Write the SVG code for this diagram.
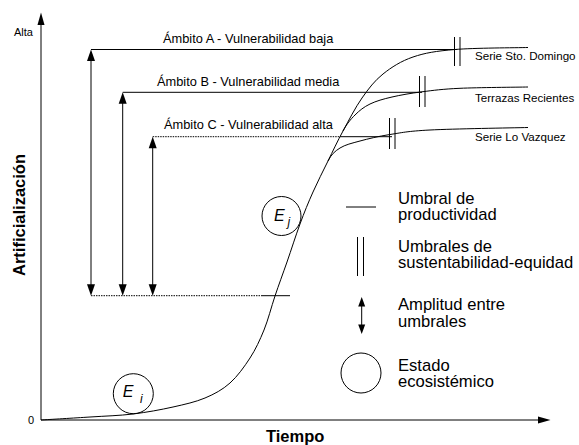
<svg xmlns="http://www.w3.org/2000/svg" width="579" height="445" viewBox="0 0 579 445">
<style>
.ln{fill:none;stroke:#000;stroke-width:1}
.dot{fill:none;stroke:#000;stroke-width:1;stroke-dasharray:1.5 1}
.ah{fill:#000;stroke:none}
.t{font-family:"Liberation Sans",Arial,sans-serif;fill:#000}
.lvl{font-size:12.8px}
.ser{font-size:11.6px}
.leg{font-size:16.6px}
.ax{font-size:11px}
.bold{font-weight:bold;font-size:16.5px}
.e{font-style:italic;font-size:16px}
.sub{font-style:italic;font-size:12px}
</style>
<rect width="579" height="445" fill="#fff"/>
<g id="axes">
<line class="ln" x1="41" y1="22" x2="41" y2="420"/>
<polygon class="ah" points="41,12.5 44.5,25 37.5,25"/>
<line class="ln" x1="41" y1="420" x2="540" y2="420"/>
<polygon class="ah" points="550.5,420 538,416.5 538,423.5"/>
<text class="t ax" x="14" y="36">Alta</text>
<text class="t ax" x="28" y="424">0</text>
<text class="t bold" x="266" y="442">Tiempo</text>
<text class="t bold" text-anchor="middle" transform="translate(25,215) rotate(-90)">Artificialización</text>
</g>
<g id="connectors">
<path id="curve-a" class="ln" d="M41,420 C49.2,419.5 74.7,418 90,417 C105.3,416 119.2,415.7 133,414 C146.8,412.3 161,409.7 173,407 C185,404.3 195.5,402 205,398 C214.5,394 222.5,389.7 230,383 C237.5,376.3 244.3,366.8 250,358 C255.7,349.2 259.8,340.3 264,330 C268.2,319.7 271.2,307.3 275,296 C278.8,284.7 282.8,274 287,262 C291.2,250 295.7,235.7 300,224 C304.3,212.3 308.3,202.5 313,192 C317.7,181.5 323,171.2 328,161 C333,150.8 337.3,141.5 343,131 C348.7,120.5 355.3,107.5 362,98 C368.7,88.5 374.5,80.8 383,74 C391.5,67.2 401,61.1 413,57 C425,52.9 435.8,51.1 455,49.5 C474.2,47.9 515.8,47.8 528,47.5"/>
<path id="curve-b" class="ln" d="M343,131 C347,123.6 350.5,119.5 355,115 C359.5,110.5 363.8,107 370,104 C376.2,101 383.3,99 392,97 C400.7,95 410.7,93.25 422,91.8 C433.3,90.35 442.3,89.1 460,88.3 C477.7,87.5 516.7,87.2 528,87"/>
<path id="curve-c" class="ln" d="M328,161 C331.1,154.7 334.7,151.3 340,148 C345.3,144.7 351.7,143.25 360,141 C368.3,138.75 378.3,136.3 390,134.5 C401.7,132.7 407,131.2 430,130 C453,128.8 511.7,127.9 528,127.5"/>
<line class="ln" x1="91" y1="49.5" x2="457" y2="49.5"/>
<line class="ln" x1="122.7" y1="92.3" x2="422" y2="92.3"/>
<line class="dot" x1="152.7" y1="136.7" x2="340" y2="136.7"/>
<line class="ln" x1="340" y1="136.7" x2="392" y2="136.7"/>
<line class="dot" x1="91" y1="295.7" x2="262" y2="295.7"/>
<line class="ln" x1="262" y1="295.7" x2="290" y2="295.7"/>
<line class="ln" x1="91" y1="58" x2="91" y2="287"/>
<polygon class="ah" points="91,49.5 95,61 87,61"/>
<polygon class="ah" points="91,295.7 95,284.2 87,284.2"/>
<line class="ln" x1="122.7" y1="100" x2="122.7" y2="287"/>
<polygon class="ah" points="122.7,92.3 126.7,103.8 118.7,103.8"/>
<polygon class="ah" points="122.7,295.7 126.7,284.2 118.7,284.2"/>
<line class="ln" x1="152.7" y1="145" x2="152.7" y2="287"/>
<polygon class="ah" points="152.7,136.7 156.7,148.2 148.7,148.2"/>
<polygon class="ah" points="152.7,295.7 156.7,284.2 148.7,284.2"/>
<line class="ln" x1="454.5" y1="37" x2="454.5" y2="66"/>
<line class="ln" x1="460" y1="37" x2="460" y2="66"/>
<line class="ln" x1="419.5" y1="76" x2="419.5" y2="107"/>
<line class="ln" x1="425" y1="76" x2="425" y2="107"/>
<line class="ln" x1="389.5" y1="118" x2="389.5" y2="149"/>
<line class="ln" x1="395" y1="118" x2="395" y2="149"/>
</g>
<g id="labels">
<text class="t lvl" x="163" y="43.3">Ámbito A - Vulnerabilidad baja</text>
<text class="t lvl" x="157" y="85.7">Ámbito B - Vulnerabilidad media</text>
<text class="t lvl" x="164" y="129.3">Ámbito C - Vulnerabilidad alta</text>
<text class="t ser" x="475" y="60.3">Serie Sto. Domingo</text>
<text class="t ser" x="475" y="102">Terrazas Recientes</text>
<text class="t ser" x="475" y="140.5">Serie Lo Vazquez</text>
</g>
<g id="state-ei">
<circle class="ln" cx="133.3" cy="393.7" r="20"/>
<text class="t e" x="122.7" y="397.3">E</text>
<text class="t sub" x="140" y="403">i</text>
</g>
<g id="state-ej">
<circle class="ln" cx="281.5" cy="216" r="19.5"/>
<text class="t e" x="274" y="220.7">E</text>
<text class="t sub" x="287.5" y="225.5">j</text>
</g>
<g id="legend">
<line class="ln" x1="346" y1="207" x2="376" y2="207"/>
<text class="t leg" x="398" y="203.5">Umbral de</text>
<text class="t leg" x="398" y="219.5">productividad</text>
<line class="ln" x1="357.5" y1="237" x2="357.5" y2="276"/>
<line class="ln" x1="363.5" y1="237" x2="363.5" y2="276"/>
<text class="t leg" x="398" y="252">Umbrales de</text>
<text class="t leg" x="398" y="268.3">sustentabilidad-equidad</text>
<line class="ln" x1="361.7" y1="304" x2="361.7" y2="327"/>
<polygon class="ah" points="361.7,297 365.2,306.5 358.2,306.5"/>
<polygon class="ah" points="361.7,334 365.2,324.5 358.2,324.5"/>
<text class="t leg" x="398" y="309.5">Amplitud entre</text>
<text class="t leg" x="398" y="326.5">umbrales</text>
<circle class="ln" cx="361" cy="373" r="20"/>
<text class="t leg" x="398" y="370.5">Estado</text>
<text class="t leg" x="398" y="387.3">ecosistémico</text>
</g>
</svg>
